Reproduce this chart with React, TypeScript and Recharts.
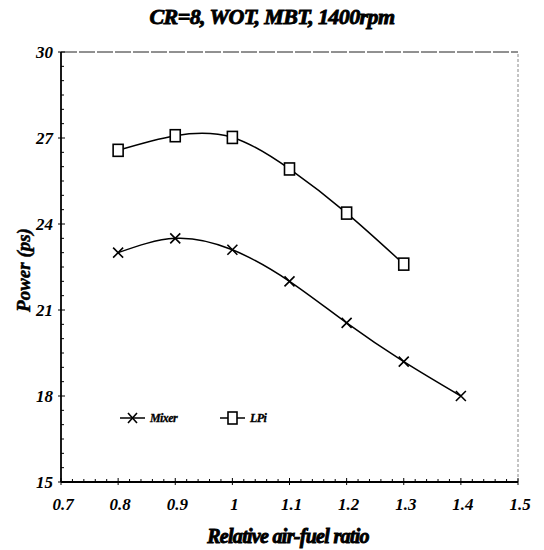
import { LineChart, Line, XAxis, YAxis, ReferenceLine, Legend } from "recharts";

// relative air-fuel ratio (lambda)
const ratio = [0.8, 0.9, 1.0, 1.1, 1.2, 1.3, 1.4];
const mixerPower = [23.0, 23.5, 23.1, 22.0, 20.55, 19.2, 18.0];
const lpiPower = [26.57, 27.08, 27.02, 25.92, 24.38, 22.6, null];

const xMajorTicks = [0.7, 0.8, 0.9, 1.0, 1.1, 1.2, 1.3, 1.4, 1.5];
const yMajorTicks = [15, 18, 21, 24, 27, 30];

const data = ratio.map((r, i) => ({ ratio: r, mixer: mixerPower[i], lpi: lpiPower[i] }));

// minor ticks: 5 per 0.1 on x, every 0.5 on y
const xTicks: number[] = [];
for (let i = 0; i < xMajorTicks.length - 1; i++) {
  for (let k = 0; k < 5; k++) xTicks.push(Math.round((xMajorTicks[i] + k * 0.02) * 100) / 100);
}
xTicks.push(xMajorTicks[xMajorTicks.length - 1]);
const yTicks: number[] = [];
for (let i = 0; i < yMajorTicks.length - 1; i++) {
  for (let k = 0; k < 6; k++) yTicks.push(yMajorTicks[i] + k * 0.5);
}
yTicks.push(yMajorTicks[yMajorTicks.length - 1]);

const serif = "'Liberation Serif', 'Times New Roman', serif";
const tickFont = { fontFamily: serif, fontStyle: "italic", fontWeight: 700, fontSize: 17, fill: "#000" };
const headFont = { fontFamily: serif, fontStyle: "italic", fontWeight: 700 };

const isMajorX = (v: number) => xMajorTicks.some((m) => Math.abs(m - v) < 1e-6);
const isMajorY = (v: number) => yMajorTicks.includes(v);

function XTick(props: any) {
  const { x, y, payload } = props;
  const major = isMajorX(payload.value);
  return (
    <g>
      <line x1={x} x2={x} y1={y - (major ? 4 : 3)} y2={y + (major ? 3 : 0)} stroke="#000" strokeWidth={1} />
      {major && (
        <text x={x + 2} y={y + 28} textAnchor="middle" {...tickFont}>
          {String(Math.round(payload.value * 10) / 10)}
        </text>
      )}
    </g>
  );
}

function YTick(props: any) {
  const { x, y, payload } = props;
  const major = isMajorY(payload.value);
  return (
    <g>
      <line x1={x - (major ? 3 : 0)} x2={x + (major ? 4 : 3)} y1={y} y2={y} stroke="#000" strokeWidth={1} />
      {major && (
        <text x={x - 8} y={y + 6} textAnchor="end" {...tickFont}>
          {payload.value}
        </text>
      )}
    </g>
  );
}

function CrossDot(props: any) {
  const { cx, cy, index } = props;
  if (cx == null || cy == null) return <g key={`x-${index}`} />;
  const s = 5;
  return (
    <path
      key={`x-${index}`}
      d={`M${cx - s},${cy - s}L${cx + s},${cy + s}M${cx - s},${cy + s}L${cx + s},${cy - s}`}
      stroke="#000"
      strokeWidth={1.6}
      fill="none"
    />
  );
}

function SquareDot(props: any) {
  const { cx, cy, index, value } = props;
  if (cx == null || cy == null || value == null) return <g key={`s-${index}`} />;
  return <rect key={`s-${index}`} x={cx - 5} y={cy - 6} width={10} height={12} fill="#fff" stroke="#000" strokeWidth={1.6} />;
}

function LegendBox() {
  const item = (label: string, marker: "x" | "s") => (
    <div style={{ display: "flex", alignItems: "center", width: 100 }}>
      <svg width={30} height={16}>
        <line x1={3} x2={28} y1={8} y2={8} stroke="#000" strokeWidth={1.5} />
        {marker === "x" ? (
          <path d="M11,3L20,13M11,13L20,3" stroke="#000" strokeWidth={1.6} />
        ) : (
          <rect x={11} y={2} width={9} height={12} fill="#fff" stroke="#000" strokeWidth={1.6} />
        )}
      </svg>
      <span
        style={{
          fontFamily: serif,
          fontStyle: "italic",
          fontWeight: 700,
          fontSize: 12,
          marginLeft: 3,
          letterSpacing: -0.6,
          WebkitTextStroke: "0.3px #000",
        }}
      >
        {label}
      </span>
    </div>
  );
  return (
    <div style={{ display: "flex" }}>
      {item("Mixer", "x")}
      {item("LPi", "s")}
    </div>
  );
}

export default function App() {
  return (
    <div style={{ position: "absolute", left: 0, top: 0, width: 544, height: 550, background: "#fff" }}>
      <div
        style={{
          position: "absolute",
          left: 0,
          top: 4,
          width: 544,
          textAlign: "center",
          fontSize: 22,
          letterSpacing: -0.6,
          WebkitTextStroke: "0.9px #000",
          ...headFont,
        }}
      >
        CR=8, WOT, MBT, 1400rpm
      </div>
      <LineChart width={544} height={550} data={data} margin={{ top: 52, right: 26, bottom: 0, left: 0 }}>
        <XAxis
          dataKey="ratio"
          type="number"
          domain={[0.7, 1.5]}
          ticks={xTicks}
          interval={0}
          height={68}
          tickSize={0}
          tickMargin={0}
          tickLine={false}
          tick={<XTick />}
          axisLine={{ stroke: "#000", strokeWidth: 1.8 }}
          allowDataOverflow
          label={() => (
            <text
              x={288}
              y={543}
              textAnchor="middle"
              fontSize={20}
              fill="#000"
              stroke="#000"
              strokeWidth={0.9}
              letterSpacing={-0.7}
              {...headFont}
            >
              Relative air-fuel ratio
            </text>
          )}
        />
        <YAxis
          type="number"
          domain={[15, 30]}
          ticks={yTicks}
          interval={0}
          width={61}
          tickSize={0}
          tickMargin={0}
          tickLine={false}
          tick={<YTick />}
          axisLine={{ stroke: "#000", strokeWidth: 1.8 }}
          allowDataOverflow
          label={() => (
            <text
              x={30}
              y={270}
              transform="rotate(-90 30 270)"
              textAnchor="middle"
              fontSize={19}
              fill="#000"
              stroke="#000"
              strokeWidth={0.5}
              {...headFont}
            >
              Power (ps)
            </text>
          )}
        />
        <ReferenceLine y={30} stroke="#222" strokeDasharray="16 2" strokeWidth={1} />
        <ReferenceLine x={1.5} stroke="#888" strokeDasharray="3 2" strokeWidth={1} />
        <Legend
          layout="horizontal"
          verticalAlign="middle"
          align="center"
          content={() => <LegendBox />}
          wrapperStyle={{ left: 117, top: 410, width: 220 }}
        />
        <Line
          type="natural"
          dataKey="mixer"
          name="Mixer"
          stroke="#000"
          strokeWidth={1.5}
          dot={<CrossDot />}
          isAnimationActive={false}
        />
        <Line
          type="natural"
          dataKey="lpi"
          name="LPi"
          stroke="#000"
          strokeWidth={1.5}
          dot={<SquareDot />}
          connectNulls={false}
          isAnimationActive={false}
        />
      </LineChart>
    </div>
  );
}
